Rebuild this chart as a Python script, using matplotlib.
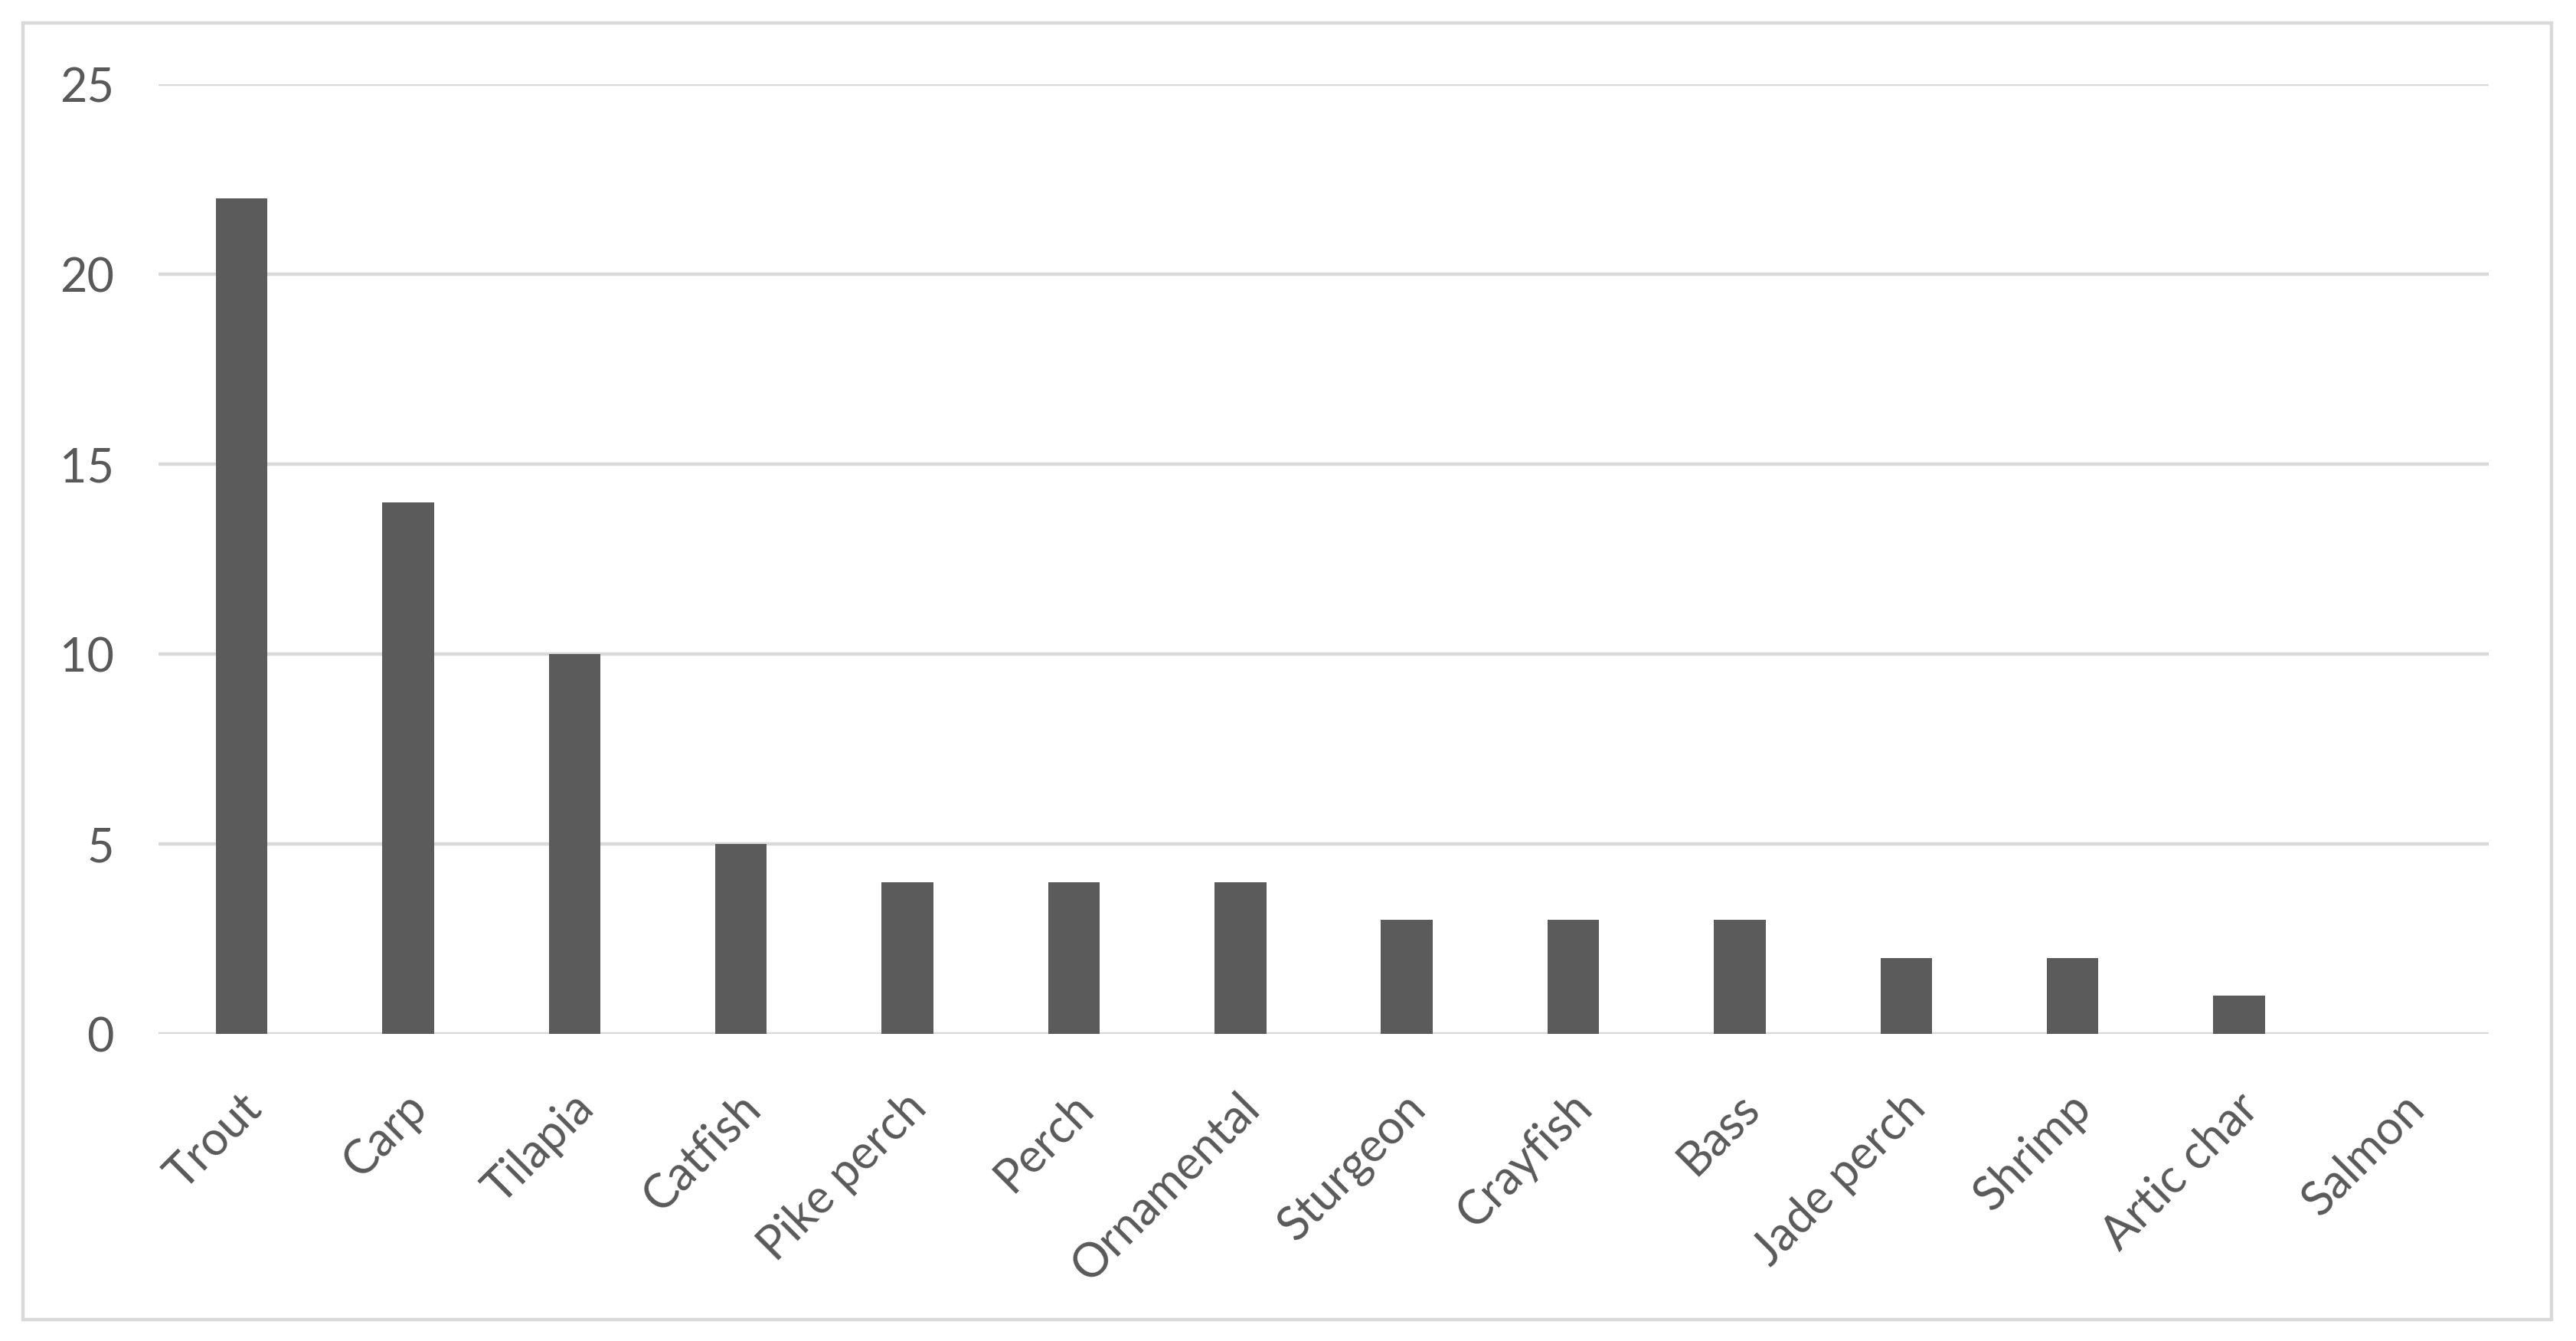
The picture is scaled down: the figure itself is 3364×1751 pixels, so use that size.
import matplotlib
matplotlib.use("Agg")
import matplotlib.pyplot as plt
import matplotlib.transforms as mtransforms
from matplotlib.patches import Rectangle

# -------------------------------------------------------------------
# Data
# -------------------------------------------------------------------
species = ["Trout", "Carp", "Tilapia", "Catfish", "Pike perch", "Perch",
           "Ornamental", "Sturgeon", "Crayfish", "Bass", "Jade perch",
           "Shrimp", "Artic char", "Salmon"]
counts = [22, 14, 10, 5, 4, 4, 4, 3, 3, 3, 2, 2, 1, 0]
yticks = [0, 5, 10, 15, 20, 25]

# -------------------------------------------------------------------
# Style
# -------------------------------------------------------------------
W, H, DPI = 3364, 1751, 200
bar_color = "#5b5b5b"
grid_color = "#d9d9d9"
text_color = "#595959"
plt.rcParams["font.family"] = ["Lato", "DejaVu Sans"]

fig = plt.figure(figsize=(W / DPI, H / DPI), dpi=DPI)
fig.patch.set_facecolor("white")

# outer chart border
fig.add_artist(Rectangle((30 / W, 1 - 1723 / H), (3332 - 30) / W, (1723 - 30) / H,
                         transform=fig.transFigure, fill=False,
                         edgecolor=grid_color, linewidth=1.6))

ax = fig.add_axes([207 / W, 1 - 1350 / H, (3250 - 207) / W, (1350 - 110) / H])

x = range(len(species))
ax.bar(x, counts, width=0.31, color=bar_color, linewidth=0, zorder=3)

ax.set_xlim(-0.5, len(species) - 0.5)
ax.set_ylim(0, 25)
ax.set_yticks(yticks)
ax.yaxis.grid(True, color=grid_color, linewidth=1.6, zorder=0)
ax.set_axisbelow(True)

for s in ax.spines.values():
    s.set_visible(False)

ax.tick_params(axis="both", length=0, labelsize=22, colors=text_color)
ax.tick_params(axis="y", pad=21)
ax.tick_params(axis="x", pad=0)

ax.set_xticks(list(x))
ax.set_xticklabels(species, rotation=45, ha="right", va="baseline",
                   rotation_mode="anchor")
offset = mtransforms.ScaledTranslation(28 / DPI, -100 / DPI, fig.dpi_scale_trans)
for lab in ax.get_xticklabels():
    lab.set_transform(lab.get_transform() + offset)

fig.savefig("out.png", dpi=DPI, facecolor="white")
